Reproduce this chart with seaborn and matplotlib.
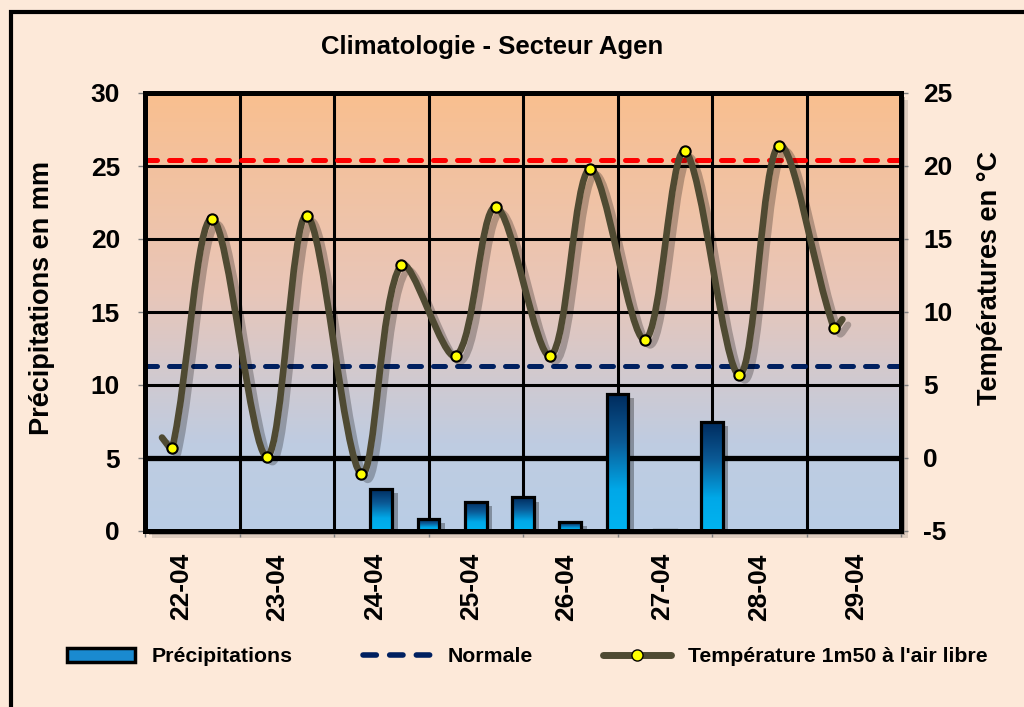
import numpy as np
import pandas as pd
import matplotlib
matplotlib.use("Agg")
import matplotlib.pyplot as plt
import seaborn as sns
import matplotlib.patheffects as pe
from matplotlib.path import Path
from matplotlib.patches import PathPatch, Rectangle, Patch
from matplotlib.lines import Line2D
from matplotlib.colors import LinearSegmentedColormap

# Data
days = ['22-04', '23-04', '24-04', '25-04', '26-04', '27-04', '28-04', '29-04']

# precipitation per half day (position in days since 22-04 00h)
precip_pos = np.arange(0, 8, 0.5)
precip_mm = [0, 0, 0, 0, 0, 2.9, 0.8, 2.0, 2.3, 0.6, 9.4, 0.1, 7.5, 0, 0, 0]

# temperature 1m50 (min at ~7h, max at ~17h)
temp_t = [0.18, 0.29, 0.71, 1.29, 1.71, 2.29, 2.71, 3.29, 3.71,
          4.29, 4.71, 5.29, 5.71, 6.29, 6.71, 7.29, 7.38]
temp_c = [1.4, 0.7, 16.4, 0.1, 16.6, -1.1, 13.2, 7.0, 17.2,
          7.0, 19.8, 8.1, 21.0, 5.7, 21.4, 8.9, 9.5]

normal_max = 20.4
normal_min = 6.3

sns.set_style("ticks")
plt.rcParams['font.family'] = ['Liberation Sans', 'DejaVu Sans']
plt.rcParams['font.weight'] = 'bold'
plt.rcParams['axes.unicode_minus'] = False
for k in ['text.color', 'axes.labelcolor', 'xtick.labelcolor', 'ytick.labelcolor']:
    plt.rcParams[k] = 'black'

BG = '#FDE9D9'
fig = plt.figure(figsize=(10.24, 7.07), dpi=100, facecolor=BG)
ax1 = fig.add_axes([145 / 1024, 1 - 531 / 707, 756 / 1024, 438 / 707])

# plot-area shadow
for off, a in [(4, 0.25), (7, 0.12)]:
    fig.add_artist(Rectangle(((145 + off) / 1024, 1 - (531 + off) / 707), 756 / 1024, 438 / 707,
                             transform=fig.transFigure, facecolor='k', edgecolor='none',
                             alpha=a, zorder=-2))

# figure frame (left and top edges visible)
fig.add_artist(Line2D([10.5 / 1024, 10.5 / 1024, 1.0], [0, 1 - 12 / 707, 1 - 12 / 707],
                      transform=fig.transFigure, color='k', lw=3, solid_joinstyle='miter'))

# plot-area gradient
bg_cmap = LinearSegmentedColormap.from_list(
    'bg', [(0, '#F9BF8F'), (0.45, '#E9C6B8'), (0.8, '#BFCCE1'), (1, '#B9CDE5')])
ax1.imshow(np.linspace(0, 1, 256).reshape(-1, 1), cmap=bg_cmap, extent=[0, 8, 0, 30],
           aspect='auto', origin='upper', zorder=0)

# bars
df = pd.DataFrame({'pos': precip_pos, 'mm': precip_mm})
sns.barplot(data=df, x='pos', y='mm', native_scale=True, width=0.46, ax=ax1,
            color='#0070C0', edgecolor='black', linewidth=2.3, errorbar=None)

bar_cmap = LinearSegmentedColormap.from_list(
    'bar', [(0, '#002A5C'), (0.35, '#0B5A96'), (0.7, '#00A8E8'), (1, '#00B4F0')])
grad = np.linspace(0, 1, 256).reshape(-1, 1)
for p in list(ax1.patches):
    h = p.get_height()
    x0, w = p.get_x(), p.get_width()
    p.set_facecolor('none')
    p.set_zorder(3)
    if h <= 0:
        continue
    sh = Rectangle((x0, 0), w, h, facecolor='none', edgecolor='none', zorder=1.5,
                   path_effects=[pe.SimplePatchShadow(offset=(4, -3), shadow_rgbFace='k', alpha=0.3)])
    ax1.add_patch(sh)
    im = ax1.imshow(grad, cmap=bar_cmap, extent=[x0, x0 + w, 0, h], aspect='auto',
                    origin='upper', zorder=2)
    im.set_clip_path(p)

# grid
ax1.set_axisbelow(True)
ax1.grid(True, color='black', lw=2.2)
ax1.axhline(5, color='black', lw=3.8, zorder=0.6)

ax1.set_xlim(0, 8)
ax1.set_ylim(0, 30)
ax1.set_yticks(range(0, 31, 5))
ax1.set_xticks(range(9))
ax1.set_xticklabels([])
label_pos = [0.38, 1.40, 2.43, 3.45, 4.46, 5.47, 6.50, 7.52]
ax1.set_xticks(label_pos, minor=True)
ax1.set_xticklabels(days, minor=True, rotation=90, fontsize=19, fontweight='bold')
ax1.tick_params(axis='x', which='minor', length=0, pad=16)
ax1.tick_params(axis='x', which='major', length=4, width=1, color='#7F7F7F')
ax1.tick_params(axis='y', labelsize=19, length=5, width=1, color='#7F7F7F', pad=13)
ax1.set_xlabel('')
ax1.set_ylabel('')

# temperature axis
ax2 = ax1.twinx()
ax2.set_ylim(-5, 25)
ax2.set_yticks(range(-5, 26, 5))
ax2.tick_params(axis='y', labelsize=19, length=5, width=1, color='#7F7F7F', pad=11)

dash = (0, (2.4, 2.4))
ax2.axhline(normal_max, color='#FF0000', lw=3.6, ls=dash, dash_capstyle='round', zorder=2)
ax2.axhline(normal_min, color='#002060', lw=3.6, ls=dash, dash_capstyle='round', zorder=2)

# smoothed temperature line: cubic Bezier through the points, tangents weighted
# by neighbouring segment lengths (measured in screen-like units)
pts = np.column_stack([temp_t, temp_c])
scale = np.array([94.5, 14.6])
n = len(pts)
seg = np.linalg.norm(np.diff(pts * scale, axis=0), axis=1)
tang = np.zeros_like(pts)
for i in range(n):
    a = pts[max(i - 1, 0)]
    b = pts[min(i + 1, n - 1)]
    tang[i] = b - a
verts = [pts[0]]
codes = [Path.MOVETO]
for i in range(n - 1):
    d_prev = seg[i - 1] if i > 0 else seg[i]
    d_next = seg[i + 1] if i < n - 2 else seg[i]
    w_out = seg[i] / (d_prev + seg[i]) if i > 0 else 0.5
    w_in = seg[i] / (seg[i] + d_next) if i < n - 2 else 0.5
    c1 = pts[i] + tang[i] * w_out / 3
    c2 = pts[i + 1] - tang[i + 1] * w_in / 3
    verts += [c1, c2, pts[i + 1]]
    codes += [Path.CURVE4] * 3
curve = PathPatch(Path(verts, codes), facecolor='none', edgecolor='#4F4A32', lw=4.8,
                  capstyle='round', joinstyle='round', zorder=4,
                  path_effects=[pe.SimpleLineShadow(offset=(4, -4), shadow_color='k', alpha=0.25),
                                pe.Normal()])
ax2.add_patch(curve)
sns.scatterplot(x=temp_t[1:-1], y=temp_c[1:-1], ax=ax2, s=55, color='#FFFF00',
                edgecolor='black', linewidth=1.5, zorder=5)
ax2.set_ylabel('')

for ax in (ax1, ax2):
    for s in ax.spines.values():
        s.set_color('black')
        s.set_linewidth(3.6)
        s.set_visible(True)
    for lab in ax.get_yticklabels():
        lab.set_fontweight('bold')

# texts
fig.text(492 / 1024, 1 - 47 / 707, 'Climatologie - Secteur Agen', ha='center', va='center',
         fontsize=18.5, fontweight='bold')
fig.text(42 / 1024, 1 - 298 / 707, 'Précipitations en mm', rotation=90, ha='center',
         va='center', fontsize=19.5, fontweight='bold')
fig.text(990 / 1024, 1 - 278 / 707, 'Températures en °C', rotation=90, ha='center',
         va='center', fontsize=19.5, fontweight='bold')

# legend
handles = [
    Patch(facecolor='#1A8AD0', edgecolor='black', lw=2.5),
    Line2D([], [], color='#002060', lw=4, ls=(0, (2.4, 2.4)), dash_capstyle='round'),
    Line2D([], [], color='#4F4A32', lw=5, solid_capstyle='round', marker='o',
           markerfacecolor='#FFFF00', markeredgecolor='black', markersize=8),
]
labels = ['Précipitations', 'Normale', "Température 1m50 à l'air libre"]
fig.legend(handles, labels, loc='center', bbox_to_anchor=(0.515, 1 - 657 / 707), ncol=3,
           frameon=False, handlelength=3.2, handleheight=0.6,
           handletextpad=0.8, columnspacing=3.3, prop={'weight': 'bold', 'size': 15.3})

fig.savefig('out.png', dpi=100, facecolor=BG)
